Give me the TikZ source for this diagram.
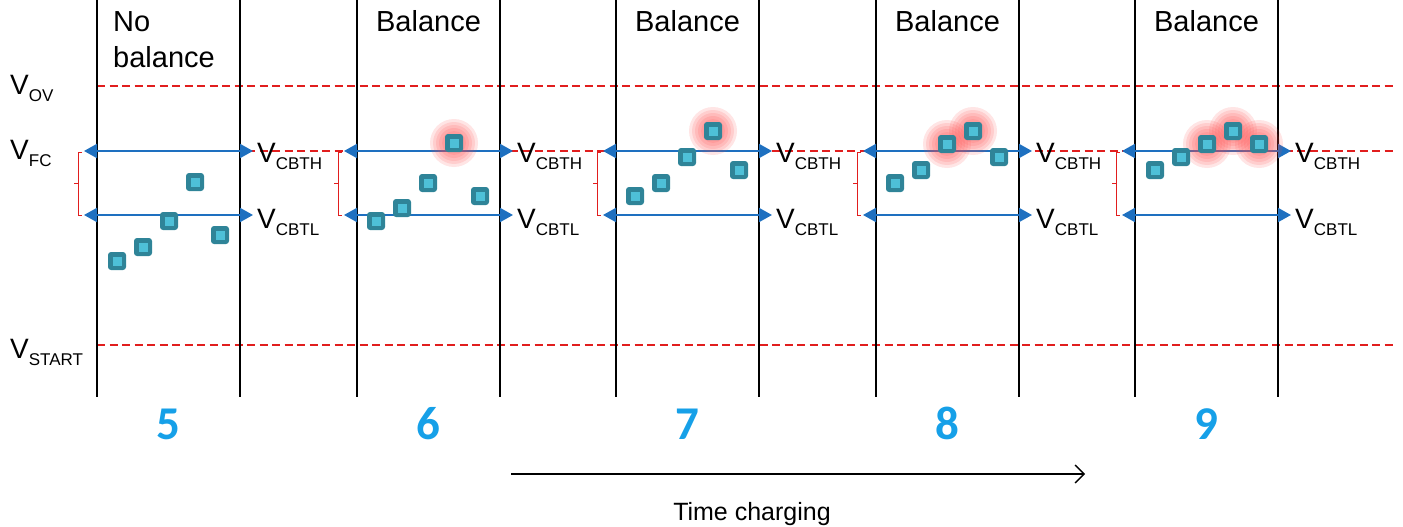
\documentclass[tikz,border=0pt]{standalone}
\usepackage{fontspec}
\setmainfont{Liberation Sans}
\newfontfamily\numfont{Carlito}
\usetikzlibrary{arrows.meta}
\definecolor{blueline}{RGB}{30,112,192}
\definecolor{reddash}{RGB}{225,30,30}
\definecolor{sqouter}{RGB}{47,132,152}
\definecolor{sqinner}{RGB}{78,192,216}
\definecolor{numblue}{RGB}{22,160,232}
\definecolor{glowred}{RGB}{255,70,70}
\newcommand{\vlab}[1]{V\raisebox{-7pt}{\fontsize{17}{17}\selectfont #1}}
\tikzset{
  panelline/.style={line width=1.8pt, black},
  limitline/.style={line width=1.6pt, reddash, dash pattern=on 8pt off 4.5pt},
  cbline/.style={line width=2pt, blueline, {Triangle[length=13pt,width=14pt]}-{Triangle[length=13pt,width=14pt]}},
  cell/.style={rectangle, minimum size=18pt, inner sep=0pt, fill=sqouter, rounded corners=3pt,
    path picture={\fill[sqinner, sharp corners] ([xshift=-4.5pt,yshift=-4.5pt]path picture bounding box.center) rectangle ([xshift=4.5pt,yshift=4.5pt]path picture bounding box.center);}},
  vtext/.style={font=\fontsize{28}{28}\selectfont, inner sep=0pt, anchor=base west},
  title/.style={font=\fontsize{29}{35}\selectfont, inner sep=0pt, anchor=base},
  num/.style={font=\numfont\bfseries\fontsize{47}{47}\selectfont, text=numblue, inner sep=0pt, anchor=base},
  brace/.style={reddash, line width=0.9pt},
}
\newcommand{\glow}[1]{%
  \foreach \r in {24,21,18,15,12} {\fill[glowred, opacity=0.14] (#1) circle (\r pt);}}
\begin{document}
\begin{tikzpicture}[x=1pt,y=-1pt]
\useasboundingbox (0,0) rectangle (1403,527);
% limit lines
\coordinate (ovL) at (97,86); \coordinate (ovR) at (1395,86);
\coordinate (fcL) at (97,151); \coordinate (fcR) at (1395,151);
\coordinate (stL) at (97,345); \coordinate (stR) at (1395,345);
\draw[limitline] (ovL) -- (ovR);
\draw[limitline] (fcL) -- (fcR);
\draw[limitline] (stL) -- (stR);
% left labels
\node[vtext] (lov) at (10,94) {\vlab{OV}};
\node[vtext] (lfc) at (10,159) {\vlab{FC}};
\node[vtext] (lst) at (10,358) {\vlab{START}};
% panels
\foreach \i/\x/\n/\t in {1/97/5/{},2/357/6/Balance,3/616/7/Balance,4/876/8/Balance,5/1135/9/Balance} {
  \coordinate (top\i L) at (\x,0); \coordinate (bot\i L) at (\x,397);
  \coordinate (top\i R) at (\x+143,0); \coordinate (bot\i R) at (\x+143,397);
  \draw[panelline] (top\i L) -- (bot\i L);
  \draw[panelline] (top\i R) -- (bot\i R);
  \coordinate (h\i L) at (\x-13,151); \coordinate (h\i R) at (\x+156,151);
  \coordinate (l\i L) at (\x-13,215); \coordinate (l\i R) at (\x+156,215);
  \draw[cbline] (h\i L) -- (h\i R);
  \draw[cbline] (l\i L) -- (l\i R);
  \node[vtext] (cbth\i) at (\x+160,162) {\vlab{CBTH}};
  \node[vtext] (cbtl\i) at (\x+160,228) {\vlab{CBTL}};
  \node[num] (num\i) at (\x+71.5,439) {\n};
  \draw[brace] (\x-15,152) -- (\x-19,152) -- (\x-19,215) -- (\x-15,215);
  \draw[brace] (\x-19,183) -- (\x-23,183);
  \node[title] (title\i) at (\x+71.5,32) {\t};
}
\node[font=\fontsize{29}{35}\selectfont, inner sep=0pt, anchor=base west] (nob1) at (113,32) {No};
\node[font=\fontsize{29}{35}\selectfont, inner sep=0pt, anchor=base west] (nob2) at (113,67) {balance};
% glows
\glow{454,143}
\glow{713,131}
\glow{947,144}\glow{973,131}
\glow{1207,144}\glow{1233,131}\glow{1259,144}
% cells
\foreach \p/\pts in {1/{117/261,143/247,169/221,195/182,220/235},
                     2/{376/221,402/208,428/183,454/143,480/196},
                     3/{635/196,661/183,687/157,713/131,739/170},
                     4/{895/183,921/170,947/144,973/131,999/157},
                     5/{1155/170,1181/157,1207/144,1233/131,1259/144}} {
  \foreach \cx/\cy [count=\k] in \pts {
    \node[cell] (c\p-\k) at (\cx,\cy) {};
  }
}
% time arrow
\coordinate (ta) at (511,474); \coordinate (tb) at (1085,474);
\draw[line width=1.4pt, -{Straight Barb[length=9pt,width=18pt,line width=1.4pt]}] (ta) -- (tb);
\node[font=\fontsize{25}{25}\selectfont, inner sep=0pt, anchor=base] (tc) at (752,520) {Time charging};
\end{tikzpicture}
\end{document}
